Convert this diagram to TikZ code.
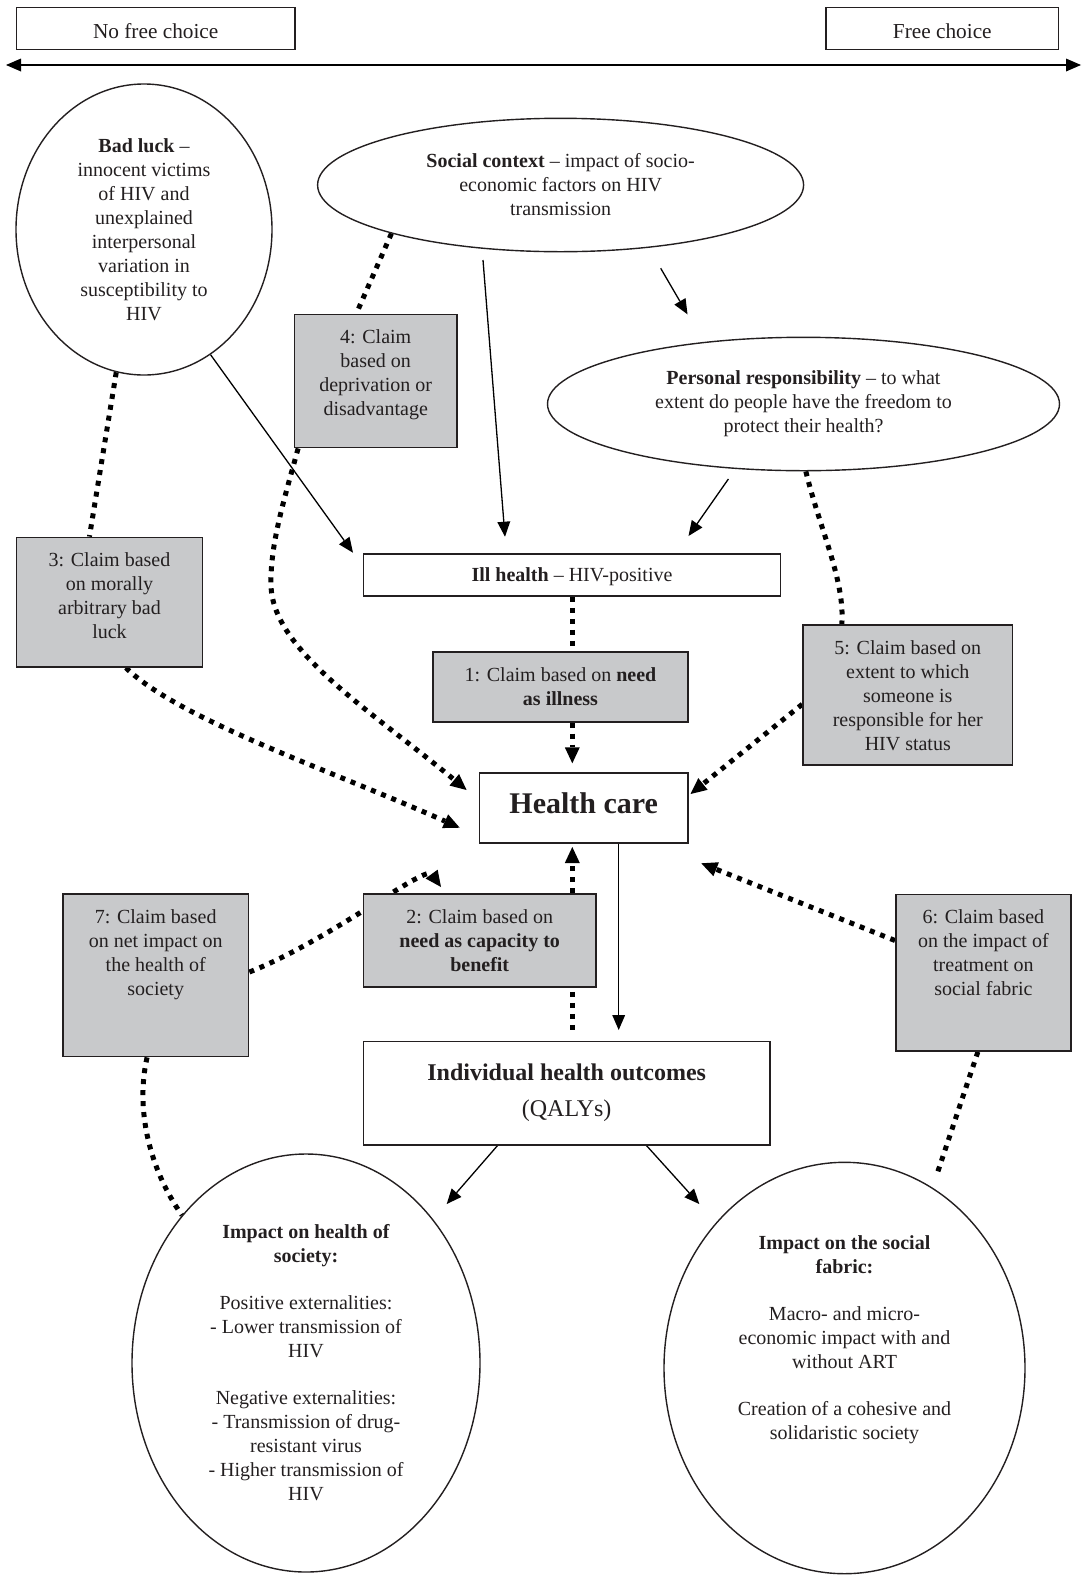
\documentclass[tikz,border=0pt]{standalone}
\usepackage{fontspec}
\setmainfont{Liberation Serif}
\usetikzlibrary{arrows.meta,shapes.geometric,backgrounds}
\definecolor{ink}{RGB}{35,31,32}
\definecolor{claimgray}{RGB}{200,201,203}
\newcommand{\claimtext}[3]{\parbox[c][#2][t]{#1}{\centering\rule{0pt}{29.5pt}#3}}
\begin{document}
\begin{tikzpicture}[x=1pt,y=-1pt,color=ink,font=\fontsize{20}{24}\selectfont,
	>={Triangle[length=15pt,width=13pt,line width=0pt]},
	plainbox/.style={draw=ink,line width=1.5pt,fill=white,inner sep=0pt,align=center},
	claim/.style={draw=ink,line width=1.5pt,fill=claimgray,inner sep=0pt},
	oval/.style={draw=ink,line width=1.4pt,ellipse,inner sep=0pt,align=center},
	link/.style={line width=1.3pt,->},
	dots/.style={line width=5pt,dash pattern=on 5pt off 6pt},
	dotarrow/.style={dots,-{Triangle[length=16pt,width=15pt,line width=0pt]}}]
	\useasboundingbox (0,0) rectangle (1084,1575);
	\node[plainbox,minimum width=278.5pt,minimum height=42pt,text height=21pt,text depth=0pt,font=\fontsize{21.3}{25}\selectfont] (nofree) at (155.7,28.3) {No free choice};
	\node[plainbox,minimum width=232.7pt,minimum height=42pt,text height=21pt,text depth=0pt,font=\fontsize{21.3}{25}\selectfont] (free) at (942.3,28.3) {Free choice};
	\node[oval,minimum width=256pt,minimum height=291pt] (badluck) at (144,229.5) {\textbf{Bad luck} –\\innocent victims\\of HIV and\\unexplained\\interpersonal\\variation in\\susceptibility to\\HIV};
	\node[oval,minimum width=486pt,minimum height=133.4pt] (social) at (560.6,185) {\textbf{Social context} – impact of socio-\\economic factors on HIV\\transmission};
	\node[oval,minimum width=512pt,minimum height=133.4pt] (personal) at (803.5,404) {\textbf{Personal responsibility} – to what\\extent do people have the freedom to\\protect their health?};
	\node[plainbox,minimum width=417.4pt,minimum height=42pt,text depth=0pt] (ill) at (572,575) {\textbf{Ill health} – HIV-positive};
	\node[claim] (c1) at (560.5,686.9) {\claimtext{255pt}{69.7pt}{1: Claim based on \textbf{need}\\\textbf{as illness}}};
	\node[plainbox,minimum width=208.7pt,minimum height=69.7pt,text depth=10.5pt,font=\fontsize{30}{36}\selectfont\bfseries] (hc) at (583.7,807.9) {Health care};
	\node[claim] (c2) at (479.7,940.4) {\claimtext{232.7pt}{93.3pt}{2: Claim based on\\\textbf{need as capacity to}\\\textbf{benefit}}};
	\node[claim] (c3) at (109.5,602.2) {\claimtext{186pt}{129.7pt}{3: Claim based\\on morally\\arbitrary bad\\luck}};
	\node[claim] (c4) at (375.7,381) {\claimtext{162.6pt}{133.4pt}{4: Claim\\based on\\deprivation or\\disadvantage}};
	\node[claim] (c5) at (907.8,695) {\claimtext{209.6pt}{140pt}{5: Claim based on\\extent to which\\someone is\\responsible for her\\HIV status}};
	\node[claim] (c6) at (983.4,972.7) {\claimtext{175.3pt}{156.7pt}{6: Claim based\\on the impact of\\treatment on\\social fabric}};
	\node[claim] (c7) at (155.7,975.3) {\claimtext{185.9pt}{162.7pt}{7: Claim based\\on net impact on\\the health of\\society}};
	\node[plainbox,minimum width=406.7pt,minimum height=103.7pt,font=\fontsize{24}{36}\selectfont] (outcome) at (566.7,1093.2) {\textbf{Individual health outcomes}\\(QALYs)};
	\node[oval,minimum width=348pt,minimum height=418pt] (ellL) at (306,1363) {\textbf{Impact on health of}\\\textbf{society:}\\[23pt]Positive externalities:\\- Lower transmission of\\HIV\\[23pt]Negative externalities:\\- Transmission of drug-\\resistant virus\\- Higher transmission of\\HIV};
	\node[oval,minimum width=361pt,minimum height=411.4pt] (ellR) at (844.5,1368) {\parbox[c][264pt][t]{230pt}{\centering\textbf{Impact on the social}\\\textbf{fabric:}\\[23pt]Macro- and micro-\\economic impact with and\\without ART\\[23pt]Creation of a cohesive and\\solidaristic society}};
	\coordinate (axL) at (6,65);
	\coordinate (axR) at (1081,65);
	\coordinate (t1) at (353,552.7);
	\coordinate (s2) at (483,260);
	\coordinate (t2) at (505,536.7);
	\coordinate (s3) at (660.7,268.3);
	\coordinate (t3) at (687.5,314.3);
	\coordinate (s4) at (728.4,479);
	\coordinate (t4) at (688.5,536);
	\coordinate (t6) at (618.7,1030);
	\coordinate (t7) at (446.7,1204);
	\coordinate (t8) at (699.3,1204);
	\coordinate (t11) at (466.6,790);
	\coordinate (t12) at (459.7,827.7);
	\coordinate (t13) at (690.5,794);
	\coordinate (t14) at (572.3,763.3);
	\coordinate (t15) at (572.3,847);
	\coordinate (t16) at (441,887);
	\coordinate (t17) at (701.3,863.3);
	\begin{scope}[on background layer]
		\draw[link,<->] (axL) -- (axR);
		\draw[link] (badluck.298) -- (t1);
		\draw[link] (s2) -- (t2);
		\draw[link] (s3) -- (t3);
		\draw[link] (s4) -- (t4);
		\draw[link] (t6 |- hc.south) -- (t6);
		\draw[link] ([xshift=-69.4pt]outcome.south) -- (t7);
		\draw[link] ([xshift=80pt]outcome.south) -- (t8);
		\draw[dots] (badluck.259) -- (c3.107);
		\draw[dots] (social.196) -- (c4.106);
		\draw[dots] (personal.272) .. controls (820,530) and (845,580) .. (c5.133);
		\draw[dots] (ill.south) -- (ill.south |- c1.north);
		\draw[dots,shorten <=4pt,shorten >=11pt] (t15 |- c2.south) -- (t15 |- outcome.north);
		\draw[dots] (c7.264) .. controls (135,1110) and (150,1170) .. (ellL.130);
		\draw[dots,shorten >=12pt] (c6.266) -- (ellR.64);
		\draw[dotarrow] (t14 |- c1.south) -- (t14);
		\draw[dotarrow] (t15 |- c2.north) -- (t15);
		\draw[dotarrow] (c3.284) .. controls (180,720) and (330,770) .. (t12);
		\draw[dotarrow] (c4.221) .. controls (284,500) and (270,545) .. (271,585) .. controls (272,650) and (370,710) .. (t11);
		\draw[dotarrow] (c5.185) -- (t13);
		\draw[dotarrow] (c6.160) -- (t17);
		\draw[dotarrow] (c7.2) .. controls (330,940) and (425,865) .. (t16);
	\end{scope}
\end{tikzpicture}
\end{document}
